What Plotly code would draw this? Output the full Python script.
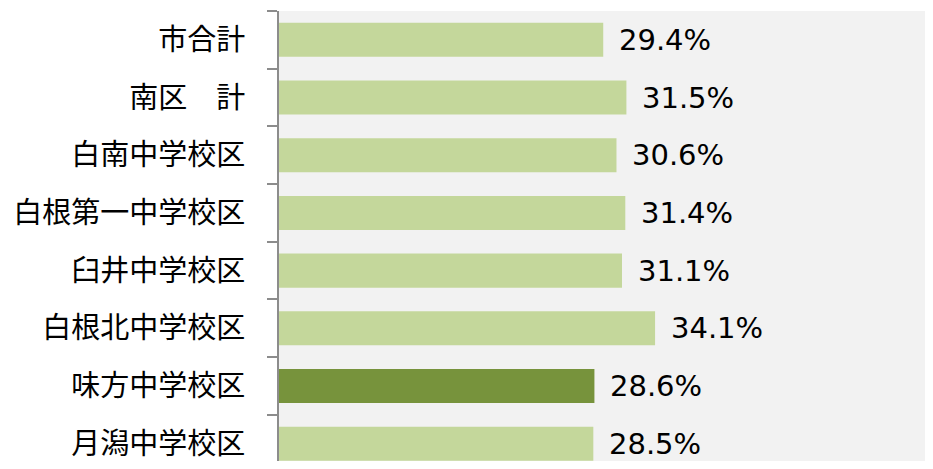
import plotly.graph_objects as go

categories = ["市合計", "南区　計", "白南中学校区", "白根第一中学校区", "臼井中学校区",
              "白根北中学校区", "味方中学校区", "月潟中学校区"]
values = [29.4, 31.5, 30.6, 31.4, 31.1, 34.1, 28.6, 28.5]
highlight = "味方中学校区"

LIGHT = "#c4d79b"
DARK = "#77933c"

cats_rev = categories[::-1]
vals_rev = values[::-1]
colors = [DARK if c == highlight else LIGHT for c in cats_rev]

fig = go.Figure()
fig.add_trace(go.Bar(
    y=cats_rev, x=vals_rev, orientation="h",
    marker=dict(color=colors, line=dict(width=0)),
    width=0.59, hoverinfo="skip",
))

for c, v in zip(cats_rev, vals_rev):
    fig.add_annotation(x=v, y=c, text=f"{v:.1f}%", showarrow=False,
                       xanchor="left", yanchor="middle", xshift=14,
                       font=dict(family="DejaVu Sans", size=29, color="#000000"))

# page has an 8px body margin; compensate so the plot area lands at x=279, y=11
fig.update_layout(
    width=925, height=453,
    margin=dict(l=271, r=0, t=3, b=0),
    paper_bgcolor="white", plot_bgcolor="#f2f2f2",
    showlegend=False, bargap=0.41,
    font=dict(family="Noto Sans CJK JP", size=29, color="#000000"),
)
fig.update_xaxes(range=[0, 59.3], showticklabels=False, showgrid=False,
                 zeroline=False, showline=False, ticks="")
fig.update_yaxes(categoryorder="array", categoryarray=cats_rev,
                 range=[-0.3, 7.5], showgrid=False, zeroline=False,
                 showline=True, linecolor="#8c8c8c", linewidth=2,
                 ticks="outside", tickson="boundaries", ticklen=10,
                 tickcolor="#8c8c8c", tickwidth=2, ticklabelstandoff=26,
                 tickfont=dict(family="Noto Sans CJK JP", size=29, color="#000000"))

fig.write_html("out.html")
